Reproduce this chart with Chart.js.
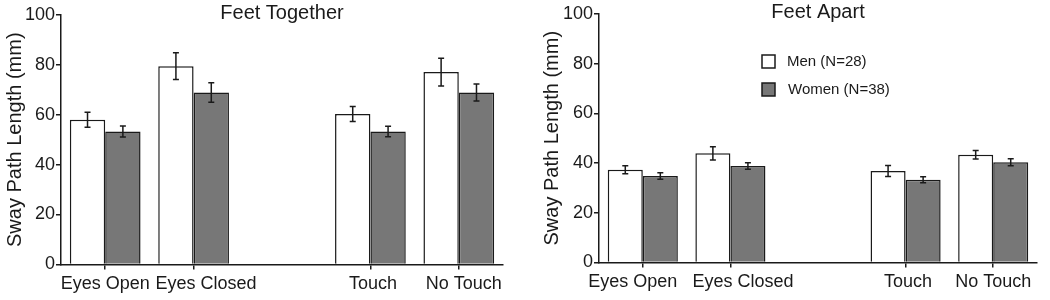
<!DOCTYPE html>
<html>
<head>
<meta charset="utf-8">
<script src="https://cdn.jsdelivr.net/npm/chart.js@4"></script>
<style>
  html, body { margin: 0; padding: 0; background: #fff; }
  #wrap { position: relative; width: 1050px; height: 300px; }
  .box { position: absolute; top: 0; height: 300px; }
</style>
</head>
<body>
<div id="wrap">
  <div class="box" style="left:0;width:520px"><canvas id="together"></canvas></div>
  <div class="box" style="left:520px;width:530px"><canvas id="apart"></canvas></div>
</div>
<script>
// categories (third slot is the empty gap between the two condition pairs)
var categories = ["Eyes Open", "Eyes Closed", "", "Touch", "No Touch"];
var yTicks = [0, 20, 40, 60, 80, 100];
var seriesNames = ["Men (N=28)", "Women (N=38)"];

// Feet Together
var togetherMen = [58, 79.5, null, 60.3, 77.1];
var togetherMenErr = [3, 5.4, null, 3, 5.6];
var togetherWomen = [53.3, 68.9, null, 53.3, 68.9];
var togetherWomenErr = [2.2, 3.9, null, 2.1, 3.4];

// Feet Apart
var apartMen = [37.3, 43.9, null, 36.8, 43.3];
var apartMenErr = [1.6, 2.7, null, 2.2, 1.7];
var apartWomen = [34.8, 38.8, null, 33.3, 40.3];
var apartWomenErr = [1.3, 1.3, null, 1.2, 1.4];

var FONT = "'Liberation Sans', Arial, sans-serif";
var INK = "#1a1a1a";
var GRAY = "#777777";

// draws the +/- error whiskers on top of every bar
var errorBars = {
  id: "errorBars",
  afterDatasetsDraw: function(chart) {
    var ctx = chart.ctx;
    var yScale = chart.scales.y;
    ctx.save();
    ctx.strokeStyle = INK;
    ctx.lineWidth = 1.5;
    chart.data.datasets.forEach(function(ds, di) {
      var meta = chart.getDatasetMeta(di);
      meta.data.forEach(function(bar, i) {
        var v = ds.data[i];
        var e = ds.errors[i];
        if (v === null || e === null) return;
        var x = bar.x;
        var top = yScale.getPixelForValue(v + e);
        var bot = yScale.getPixelForValue(v - e);
        ctx.beginPath();
        ctx.moveTo(x, top);
        ctx.lineTo(x, bot);
        ctx.moveTo(x - 3, top);
        ctx.lineTo(x + 3, top);
        ctx.moveTo(x - 3, bot);
        ctx.lineTo(x + 3, bot);
        ctx.stroke();
      });
    });
    ctx.restore();
  }
};

// legend boxes placed inside the plot area of the right chart
var boxLegend = {
  id: "boxLegend",
  afterDraw: function(chart, args, opts) {
    if (!opts.show) return;
    var ctx = chart.ctx;
    ctx.save();
    ctx.font = "15px " + FONT;
    ctx.textBaseline = "middle";
    chart.data.datasets.forEach(function(ds, i) {
      var y = opts.y + i * 28;
      ctx.fillStyle = ds.backgroundColor;
      ctx.fillRect(opts.x, y, 13, 13);
      ctx.strokeStyle = INK;
      ctx.lineWidth = 1.5;
      ctx.strokeRect(opts.x, y, 13, 13);
      ctx.fillStyle = INK;
      ctx.fillText(ds.label, opts.x + 25 + i, y + 7);
    });
    ctx.restore();
  }
};

// nudge a label sideways by padding it with spaces (about 5px per space)
function shiftLabel(label, px) {
  var n = Math.round(Math.abs(px) * 2 / 5);
  var pad = new Array(n + 1).join(" ");
  return px >= 0 ? pad + label : label + pad;
}

function makeChart(canvasId, title, men, menErr, women, womenErr, layout) {
  var chartConfig = {
    type: "bar",
    data: {
      labels: categories,
      datasets: [
        {
          label: seriesNames[0],
          data: men,
          errors: menErr,
          backgroundColor: "#ffffff",
          borderColor: INK,
          borderWidth: 1.5,
          categoryPercentage: 0.8,
          barPercentage: 1.0,
        },
        {
          label: seriesNames[1],
          data: women,
          errors: womenErr,
          backgroundColor: GRAY,
          borderColor: INK,
          borderWidth: 1.5,
          categoryPercentage: 0.8,
          barPercentage: 1.0,
        },
      ],
    },
    options: {
      responsive: true,
      maintainAspectRatio: false,
      animation: false,
      layout: { padding: layout.padding },
      plugins: {
        legend: { display: false },
        tooltip: { enabled: false },
        title: {
          display: true,
          text: title,
          fullSize: false,
          color: INK,
          font: { family: FONT, size: 20, weight: "normal" },
          padding: { top: 0, bottom: -10 },
        },
        boxLegend: layout.legend,
      },
      scales: {
        x: {
          grid: {
            offset: false,
            drawOnChartArea: false,
            tickLength: 5,
            lineWidth: 1.5,
            color: function(c) {
              return categories[c.index] === "" ? "rgba(0,0,0,0)" : INK;
            },
          },
          border: { color: INK, width: 1.5 },
          ticks: {
            color: INK,
            padding: 4,
            maxRotation: 0,
            autoSkip: false,
            font: { family: FONT, size: 18 },
            callback: function(value, index) {
              return shiftLabel(categories[index], layout.labelShift[index]);
            },
          },
        },
        y: {
          min: 0,
          max: 100,
          afterBuildTicks: function(scale) {
            scale.ticks = yTicks.map(function(v) { return { value: v }; });
          },
          afterFit: function(scale) {
            scale.width = layout.yWidth;
          },
          grid: {
            drawOnChartArea: false,
            tickLength: 5,
            lineWidth: 1.5,
            color: INK,
          },
          border: { color: INK, width: 1.5 },
          ticks: {
            color: INK,
            padding: 1,
            font: { family: FONT, size: 18 },
          },
          title: {
            display: true,
            text: "Sway Path Length (mm)",
            color: INK,
            font: { family: FONT, size: 20 },
            padding: { top: 3, bottom: 0 },
          },
        },
      },
    },
    plugins: [errorBars, boxLegend],
  };
  return new Chart(document.getElementById(canvasId), chartConfig);
}

makeChart("together", "Feet Together", togetherMen, togetherMenErr, togetherWomen, togetherWomenErr, {
  padding: { left: 0, right: 17, top: 1, bottom: 1 },
  yWidth: 61,
  labelShift: [-1, 13, 0, 3, 5],
  legend: { show: false },
});

makeChart("apart", "Feet Apart", apartMen, apartMenErr, apartWomen, apartWomenErr, {
  padding: { left: 17, right: 13, top: 0, bottom: 3 },
  yWidth: 62,
  labelShift: [-9, 12, 0, 3, 0],
  legend: { show: true, x: 242, y: 55 },
});
</script>
</body>
</html>
